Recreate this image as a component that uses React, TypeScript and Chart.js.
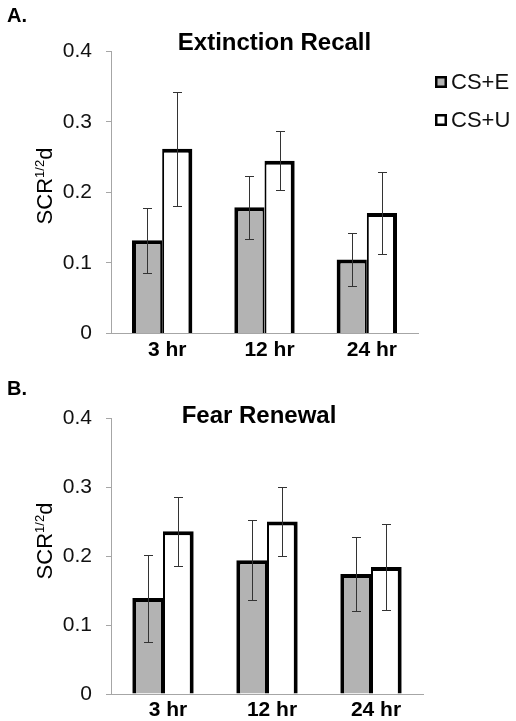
import React, { useEffect, useRef } from 'react';
import { Chart, registerables } from 'chart.js';

Chart.register(...registerables);

// ---------- data ----------
const categories = ['3 hr', '12 hr', '24 hr'];
const seriesLabels = ['CS+E', 'CS+U'];
const yTickValues = [0, 0.1, 0.2, 0.3, 0.4];

const recallCSE = [0.132, 0.179, 0.105];
const recallCSEErr = [0.046, 0.045, 0.038];
const recallCSU = [0.262, 0.245, 0.171];
const recallCSUErr = [0.081, 0.042, 0.058];

const renewalCSE = [0.139, 0.194, 0.174];
const renewalCSEErr = [0.063, 0.058, 0.054];
const renewalCSU = [0.236, 0.25, 0.184];
const renewalCSUErr = [0.05, 0.05, 0.062];

const panelTitles = ['Extinction Recall', 'Fear Renewal'];
const panelLetters = ['A.', 'B.'];
const yTitleMain = 'SCR';
const yTitleSup = '1/2';
const yTitleEnd = 'd';

// ---------- styles ----------
const FONT = '"Liberation Sans", Arial, Helvetica, sans-serif';
const GRAY = '#b3b3b3';
const WHITE = '#ffffff';
const AXIS = '#a6a6a6';

type PanelCfg = {
  width: number;
  height: number;
  title: string;
  titleX: number;
  titleBaseline: number;
  letter: string;
  letterBaseline: number;
  yTitleX: number;
  yTitleY: number;
  padTop: number;
  padRight: number;
  xAxisHeight: number;
  e: number[];
  eErr: number[];
  u: number[];
  uErr: number[];
  legend: boolean;
};

function decorPlugin(cfg: PanelCfg) {
  return {
    id: 'decor',
    afterDatasetsDraw(chart: any) {
      const ctx = chart.ctx;
      const yScale = chart.scales.y;
      const errs = [cfg.eErr, cfg.uErr];
      ctx.save();
      ctx.strokeStyle = '#333333';
      ctx.lineWidth = 1;
      chart.data.datasets.forEach((ds: any, i: number) => {
        const meta = chart.getDatasetMeta(i);
        meta.data.forEach((el: any, j: number) => {
          const v = ds.data[j];
          const e = errs[i][j];
          const x = Math.round(el.x) + 0.5;
          const top = Math.round(yScale.getPixelForValue(v + e)) + 0.5;
          const bot = Math.round(yScale.getPixelForValue(v - e)) + 0.5;
          ctx.beginPath();
          ctx.moveTo(x, top);
          ctx.lineTo(x, bot);
          ctx.moveTo(x - 4.5, top);
          ctx.lineTo(x + 4.5, top);
          ctx.moveTo(x - 4.5, bot);
          ctx.lineTo(x + 4.5, bot);
          ctx.stroke();
        });
      });
      ctx.restore();
    },
    afterDraw(chart: any) {
      const ctx = chart.ctx;
      ctx.save();
      ctx.fillStyle = '#000';
      ctx.textBaseline = 'alphabetic';
      // panel letter
      ctx.font = `bold 20px ${FONT}`;
      ctx.textAlign = 'left';
      ctx.fillText(cfg.letter, 7, cfg.letterBaseline);
      // panel title
      ctx.font = `bold 24px ${FONT}`;
      ctx.textAlign = 'center';
      ctx.fillText(cfg.title, cfg.titleX, cfg.titleBaseline);
      // y title with superscript
      ctx.save();
      ctx.translate(cfg.yTitleX, cfg.yTitleY);
      ctx.rotate(-Math.PI / 2);
      ctx.textAlign = 'left';
      const mainFont = `22px ${FONT}`;
      const supFont = `13px ${FONT}`;
      ctx.font = mainFont;
      const w1 = ctx.measureText(yTitleMain).width;
      const w3 = ctx.measureText(yTitleEnd).width;
      ctx.font = supFont;
      const w2 = ctx.measureText(yTitleSup).width;
      let x0 = -(w1 + w2 + w3) / 2;
      ctx.font = mainFont;
      ctx.fillText(yTitleMain, x0, 0);
      x0 += w1;
      ctx.font = supFont;
      ctx.fillText(yTitleSup, x0, -8);
      x0 += w2;
      ctx.font = mainFont;
      ctx.fillText(yTitleEnd, x0, 0);
      ctx.restore();
      // legend
      if (cfg.legend) {
        const rows = [82, 120];
        chart.data.datasets.forEach((ds: any, i: number) => {
          const cy = rows[i];
          ctx.fillStyle = ds.backgroundColor;
          ctx.fillRect(435, cy - 6, 12, 12);
          ctx.strokeStyle = '#000';
          ctx.lineWidth = 2.5;
          ctx.strokeRect(436.25, cy - 4.75, 9.5, 9.5);
          ctx.fillStyle = '#111';
          ctx.font = `22px ${FONT}`;
          ctx.textAlign = 'left';
          ctx.textBaseline = 'middle';
          ctx.fillText(ds.label, 451, cy + 1);
        });
      }
      ctx.restore();
    },
  };
}

function Panel({ cfg, top }: { cfg: PanelCfg; top: number }) {
  const ref = useRef<HTMLCanvasElement | null>(null);
  useEffect(() => {
    if (!ref.current) return;
    const chart = new Chart(ref.current, {
      type: 'bar',
      data: {
        labels: categories,
        datasets: [
          {
            label: seriesLabels[0],
            data: cfg.e,
            backgroundColor: GRAY,
            borderColor: '#000',
            borderWidth: { top: 4, left: 4, right: 2, bottom: 0 } as any,
            borderSkipped: false as any,
            barPercentage: 1,
            categoryPercentage: 0.59,
          },
          {
            label: seriesLabels[1],
            data: cfg.u,
            backgroundColor: WHITE,
            borderColor: '#000',
            borderWidth: { top: 4, left: 2, right: 4, bottom: 0 } as any,
            borderSkipped: false as any,
            barPercentage: 1,
            categoryPercentage: 0.59,
          },
        ],
      },
      options: {
        animation: false,
        responsive: false,
        devicePixelRatio: 1,
        layout: { padding: { top: cfg.padTop, right: cfg.padRight, left: 0, bottom: 0 } },
        plugins: {
          legend: { display: false },
          title: { display: false },
          tooltip: { enabled: false },
        },
        scales: {
          x: {
            grid: { display: false, drawTicks: false },
            border: { display: true, color: AXIS, width: 1 },
            ticks: {
              color: '#000',
              font: { family: FONT, size: 21, weight: 'bold' },
              padding: 4,
              labelOffset: 5,
              maxRotation: 0,
            },
            afterFit: (s: any) => {
              s.height = cfg.xAxisHeight;
            },
          },
          y: {
            min: 0,
            max: 0.4,
            afterBuildTicks: (s: any) => {
              s.ticks = yTickValues.map((v) => ({ value: v }));
            },
            grid: {
              display: true,
              drawOnChartArea: false,
              drawTicks: true,
              tickLength: 5,
              color: AXIS,
            },
            border: { display: true, color: AXIS, width: 1 },
            ticks: {
              color: '#111',
              font: { family: FONT, size: 21 },
              padding: 14,
              callback: (v: any) => String(v),
            },
            afterFit: (s: any) => {
              s.width = 111;
            },
          },
        },
      },
      plugins: [decorPlugin(cfg)],
    });
    return () => chart.destroy();
  }, [cfg]);
  return (
    <canvas
      ref={ref}
      width={cfg.width}
      height={cfg.height}
      style={{ position: 'absolute', left: 0, top, width: cfg.width, height: cfg.height }}
    />
  );
}

const panelA: PanelCfg = {
  width: 516,
  height: 360,
  title: panelTitles[0],
  titleX: 274.5,
  titleBaseline: 50,
  letter: panelLetters[0],
  letterBaseline: 21.5,
  yTitleX: 52,
  yTitleY: 186,
  padTop: 51.5,
  padRight: 98,
  xAxisHeight: 26.5,
  e: recallCSE,
  eErr: recallCSEErr,
  u: recallCSU,
  uErr: recallCSUErr,
  legend: true,
};

const panelB: PanelCfg = {
  width: 516,
  height: 361,
  title: panelTitles[1],
  titleX: 259,
  titleBaseline: 62.5,
  letter: panelLetters[1],
  letterBaseline: 35,
  yTitleX: 52,
  yTitleY: 181,
  padTop: 58,
  padRight: 93,
  xAxisHeight: 27,
  e: renewalCSE,
  eErr: renewalCSEErr,
  u: renewalCSU,
  uErr: renewalCSUErr,
  legend: false,
};

export default function App() {
  return (
    <div style={{ position: 'absolute', left: 0, top: 0, width: 516, height: 721, background: '#fff' }}>
      <Panel cfg={panelA} top={0} />
      <Panel cfg={panelB} top={360} />
    </div>
  );
}
